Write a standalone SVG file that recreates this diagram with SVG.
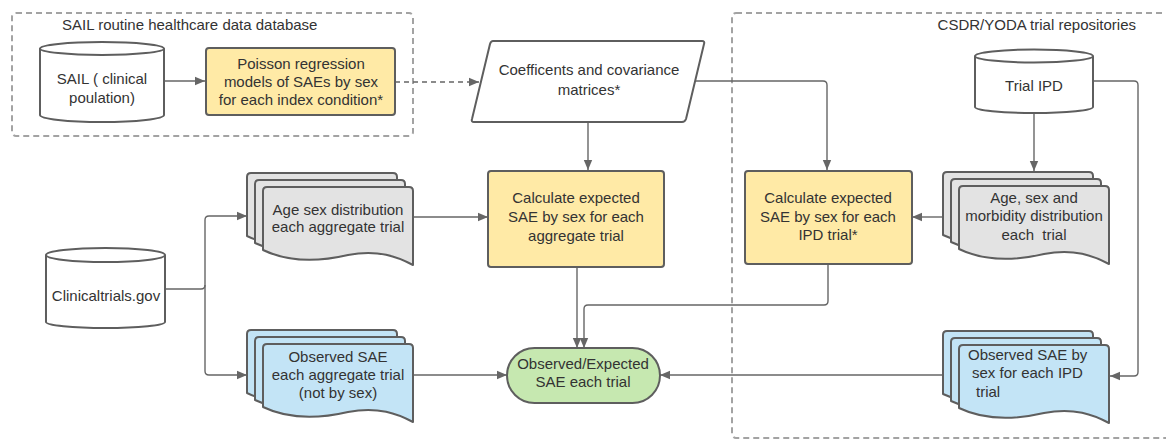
<svg xmlns="http://www.w3.org/2000/svg" xmlns:xlink="http://www.w3.org/1999/xlink" width="1166" height="442" viewBox="0 0 1166 442">
<style>
text{font-family:"Liberation Sans",Arial,sans-serif;font-size:15px;fill:#333;white-space:pre;}
.c{text-anchor:middle;}
.shape{stroke:#5e5e5e;stroke-width:2;stroke-linejoin:round;}
.white{fill:#fff;}
.yellow{fill:#ffeaa6;}
.gray{fill:#e3e3e3;}
.blue{fill:#c3e4f6;}
.green{fill:#c6e8b0;}
.group{fill:none;stroke:#a3a3a3;stroke-width:2;stroke-dasharray:6 4;}
.conn{fill:none;stroke:#666;stroke-width:1.4;}
.dash{stroke-dasharray:5 4;}
</style>
<defs>
<marker id="arr" viewBox="0 0 10 10" refX="10" refY="5" markerWidth="10" markerHeight="10" markerUnits="userSpaceOnUse" orient="auto">
<path d="M0,0.8 L10,5 L0,9.2 Z" fill="#666"/>
</marker>
<path id="page" d="M0,4 Q0,0 4,0 H146 Q150,0 150,4 V78 C135,70 115,62 85,68 C55,75 25,75 0,63 Z"/>
</defs>

<g id="groups">
<rect class="group" x="12" y="13" width="401" height="123" rx="4"/>
<text x="62" y="30">SAIL routine healthcare data database</text>
<rect class="group" x="732" y="13" width="450" height="425" rx="4"/>
<text x="1136" y="30" style="text-anchor:end">CSDR/YODA trial repositories</text>
</g>

<g id="connectors">
<path class="conn" d="M164,81 H205" marker-end="url(#arr)"/>
<path class="conn dash" d="M395,82 H479" marker-end="url(#arr)"/>
<path class="conn" d="M695,81 H823 Q827,81 827,85 V170" marker-end="url(#arr)"/>
<path class="conn" d="M588,122 V170" marker-end="url(#arr)"/>
<path class="conn" d="M165,289 H201 Q205,289 205,285 V220 Q205,216 209,216 H247" marker-end="url(#arr)"/>
<path class="conn" d="M205,285 V371 Q205,375 209,375 H247" marker-end="url(#arr)"/>
<path class="conn" d="M413,217 H488" marker-end="url(#arr)"/>
<path class="conn" d="M577,267 V348" marker-end="url(#arr)"/>
<path class="conn" d="M828,264 V301 Q828,305 824,305 H588 Q584,305 584,309 V348" marker-end="url(#arr)"/>
<path class="conn" d="M413,375 H507" marker-end="url(#arr)"/>
<path class="conn" d="M943,375 H660" marker-end="url(#arr)"/>
<path class="conn" d="M1034,113 V171" marker-end="url(#arr)"/>
<path class="conn" d="M943,217 H912" marker-end="url(#arr)"/>
<path class="conn" d="M1093,81 H1134 Q1138,81 1138,85 V372 Q1138,376 1134,376 H1110" marker-end="url(#arr)"/>
</g>

<g id="sail">
<path class="shape white" d="M40,48.5 A62,6.5 0 0 1 164,48.5 V115 A62,7 0 0 1 40,115 Z"/>
<path class="shape" fill="none" d="M40,48.5 A62,6.5 0 0 0 164,48.5"/>
<text class="c" x="102" y="84">SAIL ( clinical</text>
<text class="c" x="102" y="103">poulation)</text>
</g>

<g id="poisson">
<rect class="shape yellow" x="206" y="48" width="189" height="67" rx="3"/>
<text class="c" x="301" y="69">Poisson regression</text>
<text class="c" x="301" y="87">models of SAEs by sex</text>
<text class="c" x="301" y="105">for each index condition*</text>
</g>

<g id="coefficients">
<path class="shape white" d="M493,41 H702 Q705,41 704,44 L686,119 Q685,122 682,122 H474 Q471,122 472,119 L490,44 Q491,41 493,41 Z"/>
<text class="c" x="589" y="75">Coefficents and covariance</text>
<text class="c" x="589" y="95">matrices*</text>
</g>

<g id="clinicaltrials">
<path class="shape white" d="M46,255 A59.5,7 0 0 1 165,255 V322 A59.5,6 0 0 1 46,322 Z"/>
<path class="shape" fill="none" d="M46,255 A59.5,7 0 0 0 165,255"/>
<text class="c" x="106" y="301">Clinicaltrials.gov</text>
</g>

<g id="age-sex-dist">
<use xlink:href="#page" class="shape gray" x="247" y="173"/>
<use xlink:href="#page" class="shape gray" x="255" y="180"/>
<use xlink:href="#page" class="shape gray" x="263" y="187"/>
<text class="c" x="338" y="215">Age sex distribution</text>
<text class="c" x="338" y="232">each aggregate trial</text>
</g>

<g id="obs-sae-agg">
<use xlink:href="#page" class="shape blue" x="247" y="330"/>
<use xlink:href="#page" class="shape blue" x="255" y="337"/>
<use xlink:href="#page" class="shape blue" x="263" y="344"/>
<text class="c" x="338" y="362">Observed SAE</text>
<text class="c" x="338" y="380">each aggregate trial</text>
<text class="c" x="338" y="398">(not by sex)</text>
</g>

<g id="calc-agg">
<rect class="shape yellow" x="488" y="171" width="176" height="96" rx="3"/>
<text class="c" x="576" y="203">Calculate expected</text>
<text class="c" x="576" y="222">SAE by sex for each</text>
<text class="c" x="576" y="241">aggregate trial</text>
</g>

<g id="calc-ipd">
<rect class="shape yellow" x="745" y="171" width="167" height="93" rx="3"/>
<text class="c" x="828" y="203">Calculate expected</text>
<text class="c" x="828" y="222">SAE by sex for each</text>
<text class="c" x="828" y="240">IPD trial*</text>
</g>

<g id="obs-exp">
<rect class="shape green" x="507" y="348" width="153" height="55" rx="27.5"/>
<text class="c" x="583" y="369">Observed/Expected</text>
<text class="c" x="583" y="387">SAE each trial</text>
</g>

<g id="trial-ipd">
<path class="shape white" d="M975,56 A59,6.5 0 0 1 1093,56 V107 A59,6 0 0 1 975,107 Z"/>
<path class="shape" fill="none" d="M975,56 A59,6.5 0 0 0 1093,56"/>
<text class="c" x="1034" y="91">Trial IPD</text>
</g>

<g id="age-sex-morb">
<use xlink:href="#page" class="shape gray" x="943" y="172"/>
<use xlink:href="#page" class="shape gray" x="951" y="179"/>
<use xlink:href="#page" class="shape gray" x="959" y="186"/>
<text class="c" x="1034" y="203">Age, sex and</text>
<text class="c" x="1034" y="221">morbidity distribution</text>
<text class="c" x="1034" y="240" xml:space="preserve">each  trial</text>
</g>

<g id="obs-sae-ipd">
<use xlink:href="#page" class="shape blue" x="943" y="331"/>
<use xlink:href="#page" class="shape blue" x="951" y="338"/>
<use xlink:href="#page" class="shape blue" x="959" y="345"/>
<text x="968" y="360">Observed SAE by</text>
<text x="972" y="378">sex for each IPD</text>
<text x="976" y="397">trial</text>
</g>
</svg>
